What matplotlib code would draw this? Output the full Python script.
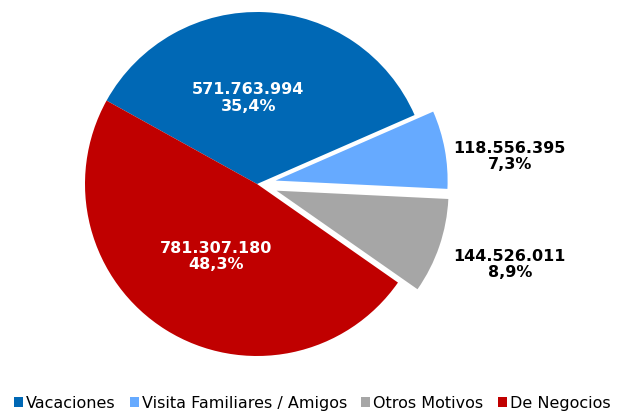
import numpy as np
import matplotlib as mpl

mpl.use("Agg")

import matplotlib.pyplot as plt
from matplotlib.patches import Patch

categories = ["Vacaciones", "Visita Familiares / Amigos", "Otros Motivos", "De Negocios"]
values = [571763994, 118556395, 144526011, 781307180]
value_labels = ["571.763.994", "118.556.395", "144.526.011", "781.307.180"]
percent_labels = ["35,4%", "7,3%", "8,9%", "48,3%"]

colors = ["#0068B5", "#66AAFF", "#A6A6A6", "#C00000"]
text_colors = ["white", "black", "black", "white"]
explode = [0, 0.11, 0.12, 0]
# label anchor points (data units, radius = 1)
label_pos = [(-0.05, 0.50), (1.47, 0.16), (1.47, -0.47), (-0.24, -0.42)]

fig = plt.figure(figsize=(6.18, 4.12), dpi=100)
axis = fig.add_axes([85 / 618, 56 / 412, 344 / 618, 344 / 412])
wedges, _ = axis.pie(values, colors=colors, explode=explode,
        startangle=151, counterclock=False,
        wedgeprops=dict(linewidth=0))
for w in wedges:
    w.set_clip_on(False)
axis.set_xlim(-1, 1)
axis.set_ylim(-1, 1)
axis.set_aspect("equal")
axis.axis("off")

for (x, y), v, p, c in zip(label_pos, value_labels, percent_labels, text_colors):
    axis.text(x, y, v + "\n" + p, ha="center", va="center",
            color=c, fontsize=11.5, fontweight="bold", linespacing=1.1)

handles = [Patch(facecolor=c, edgecolor="none") for c in colors]
legend = fig.legend(handles, categories, loc="lower center", ncol=4,
        bbox_to_anchor=(0.505, -0.016), frameon=False, fontsize=11.5,
        handlelength=0.55, handleheight=0.55, handletextpad=0.2,
        columnspacing=0.9, borderaxespad=0.1)

plt.savefig("out.png", dpi=100)
